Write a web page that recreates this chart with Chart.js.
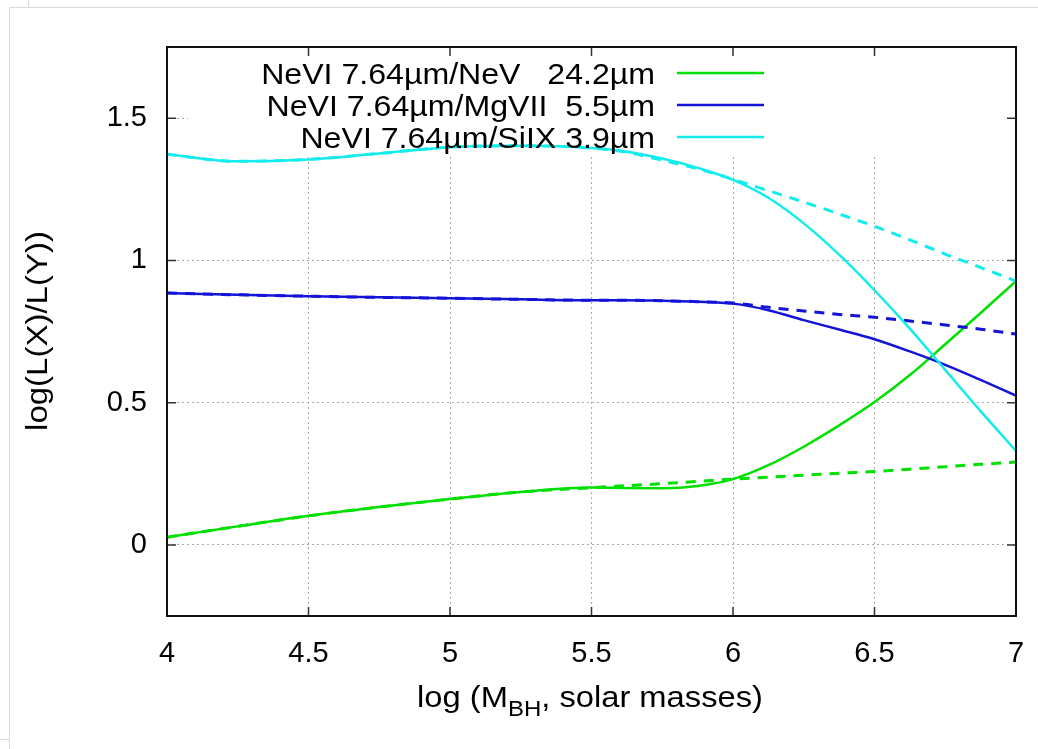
<!DOCTYPE html>
<html>
<head>
<meta charset="utf-8">
<script src="https://cdn.jsdelivr.net/npm/chart.js@4/dist/chart.umd.min.js"></script>
<style>
  html, body { margin: 0; padding: 0; background: #fff; }
  .wrap { position: relative; width: 1038px; height: 749px; overflow: hidden; }
  canvas { position: absolute; left: 0; top: 0; }
  .edge { position: absolute; background: #dadada; pointer-events: none; }
</style>
</head>
<body>
<div class="wrap">
  <canvas id="ratioChart" width="1038" height="749"></canvas>
  <div class="edge" style="left:9px; top:7px; width:1029px; height:1px"></div>
  <div class="edge" style="left:9px; top:7px; width:1px; height:742px"></div>
  <div class="edge" style="left:28px; top:0; width:1px; height:7px"></div>
  <div class="edge" style="left:0; top:739px; width:9px; height:1px"></div>
</div>
<script>
// log M_BH sample points
const massGrid = [4, 4.25, 4.5, 4.75, 5, 5.25, 5.5, 5.625, 5.75, 5.875, 6, 6.125, 6.25, 6.375, 6.5, 6.625, 6.75, 6.875, 7]

// NeVI 7.64 / NeV 24.2
const neVSolid  = [0.027, 0.065, 0.102, 0.133, 0.161, 0.186, 0.202, 0.200, 0.199, 0.207, 0.231, 0.280, 0.345, 0.420, 0.502, 0.597, 0.705, 0.815, 0.927]
const neVDashed = [0.027, 0.065, 0.102, 0.133, 0.161, 0.186, 0.201, 0.208, 0.215, 0.223, 0.231, 0.238, 0.245, 0.252, 0.258, 0.266, 0.275, 0.283, 0.291]
// NeVI 7.64 / MgVII 5.5
const mgSolid  = [0.885, 0.879, 0.874, 0.870, 0.867, 0.863, 0.860, 0.860, 0.858, 0.855, 0.848, 0.825, 0.790, 0.757, 0.723, 0.680, 0.633, 0.580, 0.525]
const mgDashed = [0.885, 0.879, 0.874, 0.870, 0.867, 0.863, 0.860, 0.860, 0.858, 0.855, 0.850, 0.835, 0.822, 0.810, 0.800, 0.787, 0.773, 0.758, 0.741]
// NeVI 7.64 / SiIX 3.9
const siSolid  = [1.373, 1.348, 1.355, 1.376, 1.398, 1.403, 1.395, 1.382, 1.358, 1.325, 1.283, 1.220, 1.130, 1.020, 0.895, 0.760, 0.615, 0.470, 0.330]
const siDashed = [1.373, 1.348, 1.355, 1.376, 1.398, 1.403, 1.395, 1.380, 1.352, 1.322, 1.285, 1.245, 1.205, 1.163, 1.120, 1.072, 1.022, 0.975, 0.927]

const xTicks = [4, 4.5, 5, 5.5, 6, 6.5, 7]
const yTicks = [0, 0.5, 1, 1.5]

const keyLabels = ['NeVI 7.64\u00b5m/NeV   24.2\u00b5m', 'NeVI 7.64\u00b5m/MgVII  5.5\u00b5m', 'NeVI 7.64\u00b5m/SiIX 3.9\u00b5m']
const lineColors = ['#00e000', '#1414d8', '#12ecec']

const FONT = '"Liberation Sans", Arial, Helvetica, sans-serif'

const toPoints = (ys) => massGrid.map((x, i) => ({ x: x, y: ys[i] }))

const makeSet = (ys, color, dashed, order) => ({
  data: toPoints(ys),
  borderColor: color,
  borderWidth: dashed ? 3 : 2.5,
  borderDash: dashed ? [10, 8] : [],
  pointRadius: 0,
  fill: false,
  cubicInterpolationMode: 'monotone',
  order: order,
})

// text drawn a little wider, like the reference rendering
const wideText = (ctx, text, x, y, sx) => {
  ctx.save()
  ctx.translate(x, y)
  ctx.scale(sx, 1)
  ctx.fillText(text, 0, 0)
  ctx.restore()
}

const keyAndFrame = {
  id: 'keyAndFrame',
  beforeDatasetsDraw(chart) {
    // opaque key area hides the grid behind it
    const { ctx, chartArea } = chart
    ctx.save()
    ctx.fillStyle = '#fff'
    ctx.fillRect(188, chartArea.top + 1, chartArea.right - 189, 153 - chartArea.top)
    ctx.restore()
  },
  afterDatasetsDraw(chart) {
    const { ctx, chartArea } = chart
    const xs = chart.scales.x
    const ys = chart.scales.y
    ctx.save()

    // inward tick marks on all four sides
    ctx.strokeStyle = '#333'
    ctx.lineWidth = 1.5
    ctx.beginPath()
    xTicks.forEach((v) => {
      const px = xs.getPixelForValue(v)
      ctx.moveTo(px, chartArea.bottom)
      ctx.lineTo(px, chartArea.bottom - 9)
      ctx.moveTo(px, chartArea.top)
      ctx.lineTo(px, chartArea.top + 9)
    })
    yTicks.forEach((v) => {
      const py = ys.getPixelForValue(v)
      ctx.moveTo(chartArea.left, py)
      ctx.lineTo(chartArea.left + 9, py)
      ctx.moveTo(chartArea.right, py)
      ctx.lineTo(chartArea.right - 9, py)
    })
    ctx.stroke()

    // frame
    ctx.strokeStyle = '#111'
    ctx.lineWidth = 2
    ctx.strokeRect(chartArea.left, chartArea.top, chartArea.right - chartArea.left, chartArea.bottom - chartArea.top)

    // key
    ctx.font = '30px ' + FONT
    ctx.fillStyle = '#000'
    ctx.textAlign = 'right'
    ctx.textBaseline = 'alphabetic'
    keyLabels.forEach((label, i) => {
      const base = 84 + i * 32
      wideText(ctx, label, 655, base, 1.07)
      ctx.strokeStyle = lineColors[i]
      ctx.lineWidth = 2.5
      ctx.beginPath()
      ctx.moveTo(677, base - 11)
      ctx.lineTo(764, base - 11)
      ctx.stroke()
    })

    // x axis title with subscript
    const sx = 1.09
    const partA = 'log (M'
    const partB = 'BH'
    const partC = ', solar masses)'
    ctx.textAlign = 'left'
    ctx.font = '30px ' + FONT
    const wA = ctx.measureText(partA).width * sx
    const wC = ctx.measureText(partC).width * sx
    ctx.font = '22px ' + FONT
    const wB = ctx.measureText(partB).width * sx
    let tx = 590 - (wA + wB + wC) / 2
    ctx.font = '30px ' + FONT
    wideText(ctx, partA, tx, 707, sx)
    tx += wA
    ctx.font = '22px ' + FONT
    wideText(ctx, partB, tx, 716, sx)
    tx += wB
    ctx.font = '30px ' + FONT
    wideText(ctx, partC, tx, 707, sx)

    // y axis title
    ctx.translate(47, 331)
    ctx.rotate(-Math.PI / 2)
    ctx.textAlign = 'center'
    wideText(ctx, 'log(L(X)/L(Y))', 0, 0, 1.1)
    ctx.restore()
  },
}

const ctx = document.getElementById('ratioChart').getContext('2d')
const ratioChart = new Chart(ctx, {
  type: 'line',
  data: {
    datasets: [
      makeSet(neVSolid, lineColors[0], false, 6),
      makeSet(neVDashed, lineColors[0], true, 5),
      makeSet(mgSolid, lineColors[1], false, 4),
      makeSet(mgDashed, lineColors[1], true, 3),
      makeSet(siSolid, lineColors[2], false, 2),
      makeSet(siDashed, lineColors[2], true, 1),
    ],
  },
  options: {
    responsive: false,
    animation: false,
    layout: { padding: { left: 0, top: 47, right: 22, bottom: 0 } },
    plugins: { legend: { display: false }, tooltip: { enabled: false } },
    scales: {
      x: {
        type: 'linear',
        min: 4,
        max: 7,
        afterBuildTicks: (scale) => { scale.ticks = xTicks.map((v) => ({ value: v })) },
        afterFit: (scale) => {
          scale.height = 133
          scale.paddingLeft = 0
          scale.paddingRight = 0
        },
        grid: { color: '#aaa', lineWidth: 1, drawTicks: false },
        border: { display: false, dash: [2, 3] },
        ticks: { color: '#000', padding: 21, maxRotation: 0, font: { family: FONT, size: 29 }, callback: (v) => String(v) },
      },
      y: {
        type: 'linear',
        min: -0.25,
        max: 1.75,
        afterBuildTicks: (scale) => { scale.ticks = yTicks.map((v) => ({ value: v })) },
        afterFit: (scale) => {
          scale.width = 167
          scale.paddingTop = 0
          scale.paddingBottom = 0
        },
        grid: { color: '#aaa', lineWidth: 1, drawTicks: false },
        border: { display: false, dash: [2, 3] },
        ticks: { color: '#000', padding: 20, font: { family: FONT, size: 29 }, callback: (v) => String(v) },
      },
    },
  },
  plugins: [keyAndFrame],
})
</script>
</body>
</html>
